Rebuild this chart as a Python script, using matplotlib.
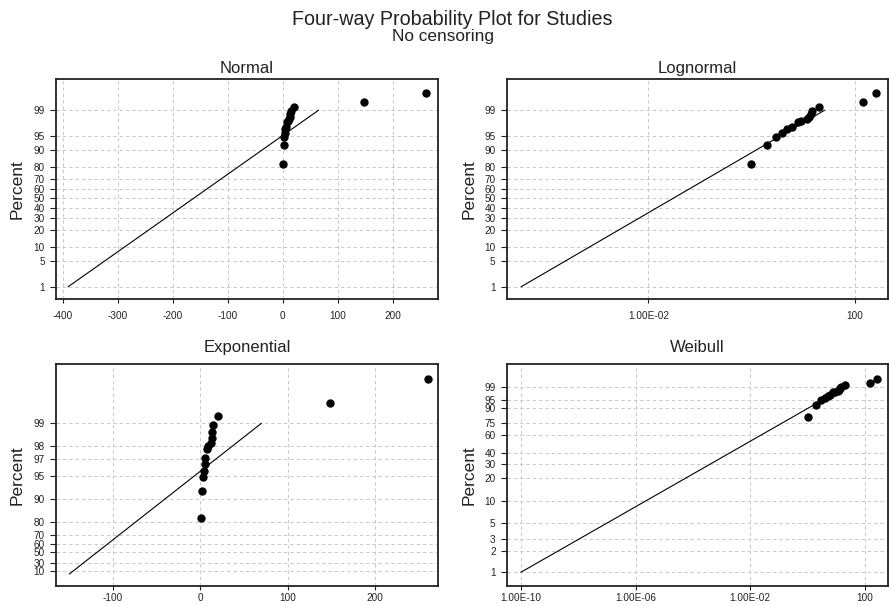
import math
import numpy as np
import matplotlib
matplotlib.use("Agg")
import matplotlib.pyplot as plt
from matplotlib.ticker import FixedLocator, FixedFormatter, NullLocator

plt.rcParams['font.family'] = ['Liberation Sans', 'DejaVu Sans']
plt.rcParams['axes.unicode_minus'] = False

# ---------------- data ----------------
values = [1, 2, 3, 4, 5, 6, 8, 9, 12, 13, 14, 15, 20, 148, 260]
percents = [81.8, 92.1, 94.8, 95.7, 96.6, 97.1, 97.8, 98.0, 98.2, 98.45,
            98.7, 98.95, 99.21, 99.47, 99.74]

fit_percents = [1, 99]
normal_fit_x = [-390, 65]
lognormal_fit_x = [3.4e-5, 26.1]
exponential_fit_x = [-149.4, 69.7]
weibull_fit_x = [1e-10, 21.9]

normal_yticks = [1, 5, 10, 20, 30, 40, 50, 60, 70, 80, 90, 95, 99]
exponential_yticks = [10, 30, 50, 60, 70, 80, 90, 95, 97, 98, 99]
weibull_yticks = [1, 2, 3, 5, 10, 20, 30, 40, 60, 75, 90, 95, 99]

normal_xticks = [-400, -300, -200, -100, 0, 100, 200]
exponential_xticks = [-100, 0, 100, 200]
lognormal_xticks = [1e-2, 1e2]
lognormal_xticklabels = ["1.00E-02", "100"]
weibull_xticks = [1e-10, 1e-6, 1e-2, 1e2]
weibull_xticklabels = ["1.00E-10", "1.00E-06", "1.00E-02", "100"]

# ---------------- probability scales ----------------
_a = [-3.969683028665376e+01, 2.209460984245205e+02, -2.759285104469687e+02,
      1.383577518672690e+02, -3.066479806614716e+01, 2.506628277459239e+00]
_b = [-5.447609879822406e+01, 1.615858368580409e+02, -1.556989798598866e+02,
      6.680131188771972e+01, -1.328068155288572e+01]
_c = [-7.784894002430293e-03, -3.223964580411365e-01, -2.400758277161838e+00,
      -2.549732539343734e+00, 4.374664141464968e+00, 2.938163982698783e+00]
_d = [7.784695709041462e-03, 3.224671290700398e-01, 2.445134137142996e+00,
      3.754408661907416e+00]


def norm_ppf(p):
    p = np.asarray(p, dtype=float)
    shape = p.shape
    p = np.clip(np.atleast_1d(p).ravel(), 1e-12, 1 - 1e-12)
    x = np.empty_like(p)
    plow = 0.02425
    lo = p < plow
    hi = p > 1 - plow
    mid = ~(lo | hi)
    q = np.sqrt(-2 * np.log(p[lo]))
    x[lo] = (((((_c[0]*q+_c[1])*q+_c[2])*q+_c[3])*q+_c[4])*q+_c[5]) / \
            ((((_d[0]*q+_d[1])*q+_d[2])*q+_d[3])*q+1)
    q = np.sqrt(-2 * np.log(1 - p[hi]))
    x[hi] = -(((((_c[0]*q+_c[1])*q+_c[2])*q+_c[3])*q+_c[4])*q+_c[5]) / \
        ((((_d[0]*q+_d[1])*q+_d[2])*q+_d[3])*q+1)
    q = p[mid] - 0.5
    r = q * q
    x[mid] = (((((_a[0]*r+_a[1])*r+_a[2])*r+_a[3])*r+_a[4])*r+_a[5])*q / \
             (((((_b[0]*r+_b[1])*r+_b[2])*r+_b[3])*r+_b[4])*r+1)
    return x.reshape(shape)


_erf = np.vectorize(math.erf, otypes=[float])


def norm_fwd(pct):
    return norm_ppf(np.asarray(pct, dtype=float) / 100.0)


def norm_inv(z):
    z = np.clip(np.asarray(z, dtype=float), -30, 30)
    return 50.0 * (1.0 + _erf(z / math.sqrt(2.0)))


def expo_fwd(pct):
    p = np.clip(np.asarray(pct, dtype=float) / 100.0, -1e6, 1 - 1e-12)
    return -np.log(1.0 - p)


def expo_inv(t):
    t = np.clip(np.asarray(t, dtype=float), -50, 50)
    return 100.0 * (1.0 - np.exp(-t))


def weib_fwd(pct):
    p = np.clip(np.asarray(pct, dtype=float) / 100.0, 1e-14, 1 - 1e-12)
    return np.log(-np.log(1.0 - p))


def weib_inv(w):
    w = np.clip(np.asarray(w, dtype=float), -40, 3.5)
    return 100.0 * (1.0 - np.exp(-np.exp(w)))


# ---------------- figure ----------------
W, H = 889, 606
fig = plt.figure(figsize=(W / 100, H / 100), dpi=100)


def add_axes(l, t, r, b):
    return fig.add_axes([l / W, 1 - b / H, (r - l) / W, (b - t) / H])


grid_kw = dict(color='#c8c8c8', linestyle=(0, (3.5, 3)), linewidth=0.7)


def style(ax, title, title_base, yticks, fwd, inv, ylim_t, ylab_x, xpad):
    ax.set_yscale('function', functions=(fwd, inv))
    ax.set_ylim(inv(ylim_t[0]), inv(ylim_t[1]))
    ax.yaxis.set_major_locator(FixedLocator(yticks))
    ax.yaxis.set_major_formatter(FixedFormatter([str(v) for v in yticks]))
    ax.yaxis.set_minor_locator(NullLocator())
    ax.xaxis.set_minor_locator(NullLocator())
    ax.grid(True, which='major', **grid_kw)
    ax.set_axisbelow(True)
    for s in ax.spines.values():
        s.set_linewidth(1.3)
        s.set_color('#222222')
    ax.tick_params(axis='y', length=4, width=0.8, pad=4, labelsize=7.2,
                   colors='#222222')
    ax.tick_params(axis='x', length=3, width=0.8, pad=xpad, labelsize=7.2,
                   colors='#222222')
    ax.set_ylabel('Percent', fontsize=12.5, color='#222222')
    ax.yaxis.set_label_coords(ylab_x, 0.5)
    pos = ax.get_position()
    fig.text(pos.x0 + pos.width / 2, 1 - title_base / H, title,
             ha='center', va='baseline', fontsize=12, color='#222222')


# Normal
ax1 = add_axes(56, 79, 437.7, 299)
style(ax1, 'Normal', 73, normal_yticks, norm_fwd, norm_inv, (-2.651, 3.152), -0.083, 6)
ax1.set_xlim(-412.2, 281.8)
ax1.xaxis.set_major_locator(FixedLocator(normal_xticks))
ax1.plot(normal_fit_x, fit_percents, color='black', lw=0.8)
ax1.plot(values, percents, 'o', color='black', ms=5)

# Lognormal
ax2 = add_axes(506.7, 79, 887.5, 299)
ax2.set_xscale('log')
style(ax2, 'Lognormal', 73, normal_yticks, norm_fwd, norm_inv, (-2.651, 3.152), -0.08, 6)
ax2.set_xlim(10 ** -4.75, 10 ** 2.64)
ax2.xaxis.set_major_locator(FixedLocator(lognormal_xticks))
ax2.xaxis.set_major_formatter(FixedFormatter(lognormal_xticklabels))
ax2.xaxis.set_minor_locator(NullLocator())
ax2.plot(lognormal_fit_x, fit_percents, color='black', lw=0.8)
ax2.plot(values, percents, 'o', color='black', ms=5)

# Exponential
ax3 = add_axes(56, 364.3, 437.7, 585.5)
style(ax3, 'Exponential', 352, exponential_yticks, expo_fwd, expo_inv, (-0.344, 6.411), -0.083, 2.5)
ax3.set_xlim(-164.8, 271.3)
ax3.xaxis.set_major_locator(FixedLocator(exponential_xticks))
ax3.plot(exponential_fit_x, fit_percents, color='black', lw=0.8)
ax3.plot(values, percents, 'o', color='black', ms=5)

# Weibull
ax4 = add_axes(506.7, 364.3, 887.5, 585.5)
ax4.set_xscale('log')
style(ax4, 'Weibull', 352, weibull_yticks, weib_fwd, weib_inv, (-5.04, 2.262), -0.08, 2.5)
ax4.set_xlim(10 ** -10.5, 10 ** 2.79)
ax4.xaxis.set_major_locator(FixedLocator(weibull_xticks))
ax4.xaxis.set_major_formatter(FixedFormatter(weibull_xticklabels))
ax4.xaxis.set_minor_locator(NullLocator())
ax4.plot(weibull_fit_x, fit_percents, color='black', lw=0.8)
ax4.plot(values, percents, 'o', color='black', ms=5)

fig.text(452 / W, 1 - 25 / H, 'Four-way Probability Plot for Studies',
         ha='center', va='baseline', fontsize=14.2, color='#222222')
fig.text(443 / W, 1 - 41.5 / H, 'No censoring',
         ha='center', va='baseline', fontsize=12.4, color='#222222')

fig.savefig('out.png', dpi=100)
